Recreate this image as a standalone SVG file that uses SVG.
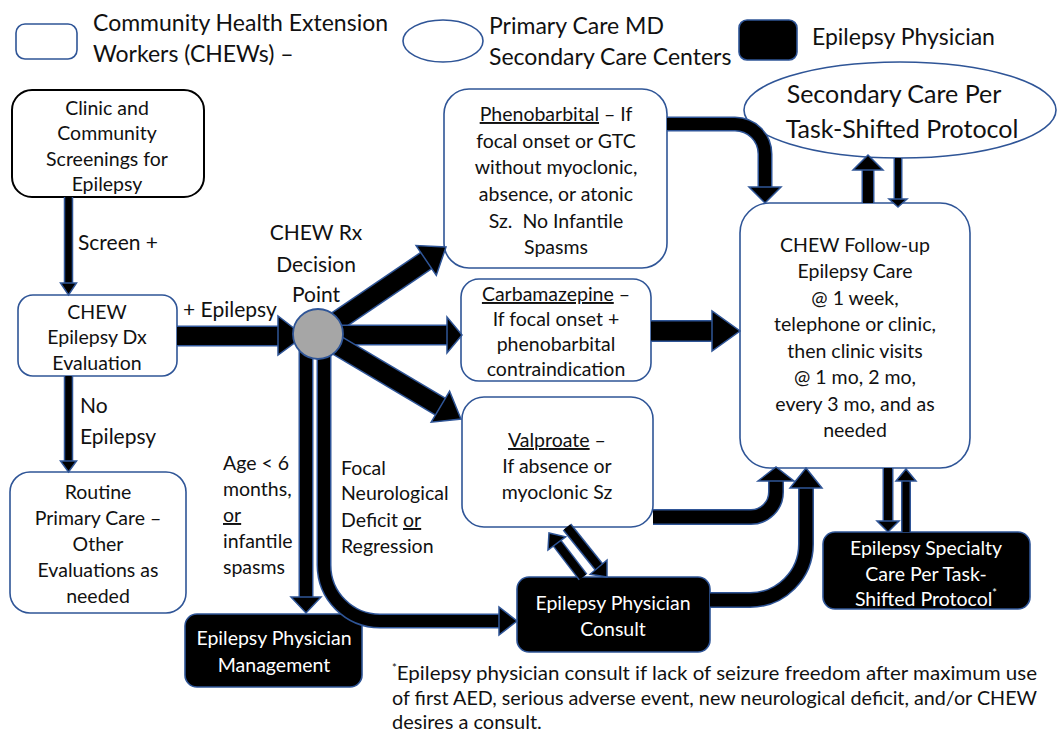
<svg xmlns="http://www.w3.org/2000/svg" width="1058" height="731" viewBox="0 0 1058 731">
<style>
text{font-family:Lato,"Open Sans","Liberation Sans",sans-serif;fill:#111;}
.t{font-size:19.5px;text-anchor:middle;}
.tl{font-size:19.5px;}
.w{fill:#fff;}
.leg{font-size:23px;}
.box{fill:#fff;stroke:#2F5597;stroke-width:1.6;}
.bbox{fill:#000;stroke:#2F5597;stroke-width:1.6;}
.so{fill:none;stroke:#2F5597;}
.si{fill:none;stroke:#000;}
.hd{fill:#000;stroke:#2F5597;stroke-width:1.5;stroke-linejoin:miter;}
.u{text-decoration:underline;}
</style>
<rect width="1058" height="731" fill="#fff"/>

<g id="legend">
<rect x="16" y="24" width="61" height="35" rx="9" class="box"/>
<text class="leg" x="93" y="31">Community Health Extension</text>
<text class="leg" x="93" y="62">Workers (CHEWs) –</text>
<ellipse cx="443" cy="41" rx="40" ry="21" class="box"/>
<text class="leg" x="489" y="34">Primary Care MD</text>
<text class="leg" x="489" y="65">Secondary Care Centers</text>
<rect x="739" y="20" width="58" height="40" rx="8" class="bbox"/>
<text class="leg" x="812" y="45">Epilepsy Physician</text>
</g>

<g id="screen">
<rect x="12" y="90" width="192" height="107" rx="20" fill="#fff" stroke="#000" stroke-width="2"/>
<text class="t" x="107" y="115">Clinic and</text>
<text class="t" x="107" y="140">Community</text>
<text class="t" x="107" y="166">Screenings for</text>
<text class="t" x="107" y="191">Epilepsy</text>
</g>

<g id="dx">
<rect x="18" y="295" width="159" height="81" rx="15" class="box"/>
<text class="t" x="97" y="319">CHEW</text>
<text class="t" x="97" y="344">Epilepsy Dx</text>
<text class="t" x="97" y="370">Evaluation</text>
</g>

<g id="routine">
<rect x="10" y="472" width="176" height="141" rx="20" class="box"/>
<text class="t" x="98" y="499">Routine</text>
<text class="t" x="98" y="525">Primary Care –</text>
<text class="t" x="98" y="551">Other</text>
<text class="t" x="98" y="577">Evaluations as</text>
<text class="t" x="98" y="603">needed</text>
</g>

<g id="pheno">
<rect x="444" y="89" width="223" height="179" rx="25" class="box"/>
<text class="t" x="556" y="121"><tspan class="u">Phenobarbital</tspan> – If</text>
<text class="t" x="556" y="148">focal onset or GTC</text>
<text class="t" x="556" y="174">without myoclonic,</text>
<text class="t" x="556" y="201">absence, or atonic</text>
<text class="t" x="556" y="228">Sz.&#160; No Infantile</text>
<text class="t" x="556" y="254">Spasms</text>
</g>

<g id="carba">
<rect x="461" y="279" width="190" height="102" rx="18" class="box"/>
<text class="t" x="556" y="301"><tspan class="u">Carbamazepine</tspan> –</text>
<text class="t" x="556" y="326">If focal onset +</text>
<text class="t" x="556" y="351">phenobarbital</text>
<text class="t" x="556" y="376">contraindication</text>
</g>

<g id="valpro">
<rect x="462" y="397" width="191" height="130" rx="22" class="box"/>
<text class="t" x="557" y="447"><tspan class="u">Valproate</tspan> –</text>
<text class="t" x="557" y="473">If absence or</text>
<text class="t" x="557" y="499">myoclonic Sz</text>
</g>

<g id="followup">
<rect x="740" y="203" width="230" height="265" rx="30" class="box"/>
<text class="t" x="855" y="252">CHEW Follow-up</text>
<text class="t" x="855" y="278">Epilepsy Care</text>
<text class="t" x="855" y="305">@ 1 week,</text>
<text class="t" x="855" y="331">telephone or clinic,</text>
<text class="t" x="855" y="358">then clinic visits</text>
<text class="t" x="855" y="384">@ 1 mo, 2 mo,</text>
<text class="t" x="855" y="411">every 3 mo, and as</text>
<text class="t" x="855" y="437">needed</text>
</g>

<g id="secondary">
<ellipse cx="900" cy="110" rx="156" ry="48" class="box"/>
<text x="894" y="103" style="font-size:25px;text-anchor:middle">Secondary Care Per</text>
<text x="902" y="138" style="font-size:25px;text-anchor:middle">Task-Shifted Protocol</text>
</g>

<g id="specialty">
<rect x="823" y="532" width="207" height="77" rx="12" class="bbox"/>
<text class="t w" x="926" y="555">Epilepsy Specialty</text>
<text class="t w" x="926" y="581">Care Per Task-</text>
<text class="t w" x="926" y="606">Shifted Protocol<tspan style="font-size:11px" dy="-9">*</tspan></text>
</g>

<g id="consult">
<rect x="517" y="577" width="193" height="75" rx="12" class="bbox"/>
<text class="t w" x="613" y="610">Epilepsy Physician</text>
<text class="t w" x="613" y="636">Consult</text>
</g>

<g id="management">
<rect x="185" y="614" width="177" height="73" rx="12" class="bbox"/>
<text class="t w" x="274" y="645">Epilepsy Physician</text>
<text class="t w" x="274" y="672">Management</text>
</g>

<g id="connectors">
<path class="so" stroke-width="9.5" d="M68.5,197 V284"/>
<path class="si" stroke-width="6.5" d="M68.5,197 V284"/>
<polygon class="hd" points="60.5,283 76.5,283 68.5,295"/>
<path class="so" stroke-width="9.5" d="M68.5,376 V462"/>
<path class="si" stroke-width="6.5" d="M68.5,376 V462"/>
<polygon class="hd" points="60.5,461 76.5,461 68.5,472"/>
<path class="so" stroke-width="21" d="M177,336 H279"/>
<path class="si" stroke-width="18" d="M177,336 H279"/>
<polygon class="hd" points="278,316 278,355 304,336"/>
<path class="so" stroke-width="21" d="M318,334 L427,260"/>
<path class="si" stroke-width="18" d="M318,334 L427,260"/>
<polygon class="hd" points="436.3,275.4 416.1,245.6 446,247"/>
<path class="so" stroke-width="21" d="M318,335 H448"/>
<path class="si" stroke-width="18" d="M318,335 H448"/>
<polygon class="hd" points="447,317 447,353 462,335"/>
<path class="so" stroke-width="21" d="M318,334 L441,407"/>
<path class="si" stroke-width="18" d="M318,334 L441,407"/>
<polygon class="hd" points="431.2,422.2 449.6,391.2 461,419"/>
<path class="so" stroke-width="15" d="M306,334 V598"/>
<path class="si" stroke-width="12" d="M306,334 V598"/>
<polygon class="hd" points="291,597 321,597 306,613"/>
<path class="so" stroke-width="15" d="M324,334 V565 A56,56 0 0 0 380,621 H500"/>
<path class="si" stroke-width="12" d="M324,334 V565 A56,56 0 0 0 380,621 H500"/>
<polygon class="hd" points="499,607 499,635 517,621"/>
<path class="so" stroke-width="15" d="M667,124 H735 A30,30 0 0 1 765,154 V188"/>
<path class="si" stroke-width="12" d="M667,124 H735 A30,30 0 0 1 765,154 V188"/>
<polygon class="hd" points="749,187 781,187 765,203"/>
<path class="so" stroke-width="22" d="M651,331 H713"/>
<path class="si" stroke-width="19" d="M651,331 H713"/>
<polygon class="hd" points="712,311 712,351 740,331"/>
<path class="so" stroke-width="16" d="M653,517 H751 A25,25 0 0 0 776,492 V480"/>
<path class="si" stroke-width="13" d="M653,517 H751 A25,25 0 0 0 776,492 V480"/>
<polygon class="hd" points="758,481 794,481 776,467"/>
<path class="so" stroke-width="16" d="M710,600 H750 A56,56 0 0 0 806,544 V487"/>
<path class="si" stroke-width="13" d="M710,600 H750 A56,56 0 0 0 806,544 V487"/>
<polygon class="hd" points="790,488 822,488 806,468"/>
<path class="so" stroke-width="13" d="M868,203 V169"/>
<path class="si" stroke-width="10" d="M868,203 V169"/>
<polygon class="hd" points="853,170 883,170 868,155"/>
<path class="so" stroke-width="9" d="M898,158 V200"/>
<path class="si" stroke-width="6" d="M898,158 V200"/>
<polygon class="hd" points="889,199 907,199 898,207"/>
<path class="so" stroke-width="11" d="M888,468 V522"/>
<path class="si" stroke-width="8" d="M888,468 V522"/>
<polygon class="hd" points="877,521 899,521 888,532"/>
<path class="so" stroke-width="10" d="M906,532 V480"/>
<path class="si" stroke-width="7" d="M906,532 V480"/>
<polygon class="hd" points="896,481 916,481 906,469"/>
<path class="so" stroke-width="11" d="M583,577 L557,543"/>
<path class="si" stroke-width="8" d="M583,577 L557,543"/>
<polygon class="hd" points="565.6,536.8 548,550 549,533"/>
<path class="so" stroke-width="11" d="M567,527 L599,567"/>
<path class="si" stroke-width="8" d="M567,527 L599,567"/>
<polygon class="hd" points="590.2,574.2 607,560 607,577"/>
</g>

<g id="decision">
<circle cx="318" cy="334" r="25" fill="#A6A6A6" stroke="#2F5597" stroke-width="1.8"/>
<text x="316" y="240" style="font-size:21px;text-anchor:middle">CHEW Rx</text>
<text x="316" y="272" style="font-size:21px;text-anchor:middle">Decision</text>
<text x="316" y="302" style="font-size:21px;text-anchor:middle">Point</text>
</g>

<g id="labels">
<text x="78" y="250" style="font-size:21px">Screen +</text>
<text x="183" y="317" style="font-size:21px">+ Epilepsy</text>
<text x="80" y="413" style="font-size:21px">No</text>
<text x="80" y="444" style="font-size:21px">Epilepsy</text>
<text class="tl" x="223" y="470">Age &lt; 6</text>
<text class="tl" x="223" y="496">months,</text>
<text class="tl" x="223" y="522"><tspan class="u">or</tspan></text>
<text class="tl" x="223" y="548">infantile</text>
<text class="tl" x="223" y="574">spasms</text>
<text class="tl" x="341" y="475">Focal</text>
<text class="tl" x="341" y="500">Neurological</text>
<text class="tl" x="341" y="527">Deficit <tspan class="u">or</tspan></text>
<text class="tl" x="341" y="553">Regression</text>
</g>

<g id="footnote">
<text class="tl" x="392" y="680" style="font-size:20px" textLength="645" lengthAdjust="spacingAndGlyphs"><tspan style="font-size:11px" dy="-8">*</tspan><tspan dy="8">Epilepsy physician consult if lack of seizure freedom after maximum use</tspan></text>
<text class="tl" x="392" y="705" style="font-size:20px" textLength="645" lengthAdjust="spacingAndGlyphs">of first AED, serious adverse event, new neurological deficit, and/or CHEW</text>
<text class="tl" x="392" y="729" style="font-size:20px">desires a consult.</text>
</g>
</svg>
